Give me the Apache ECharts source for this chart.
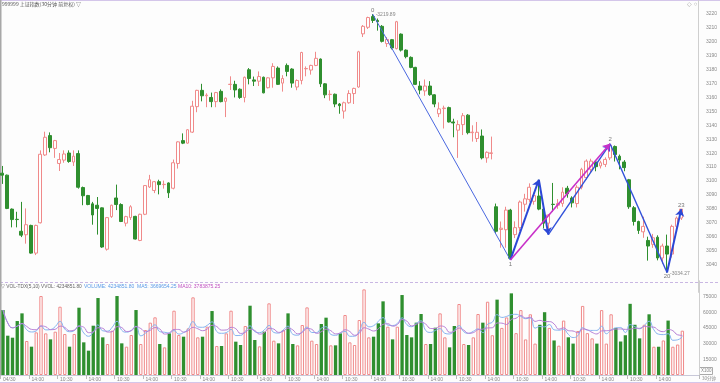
<!DOCTYPE html>
<html><head><meta charset="utf-8">
<script src="https://cdn.jsdelivr.net/npm/echarts@6/dist/echarts.min.js"></script>
<style>html,body{margin:0;padding:0;background:#fdfdfd}#c{width:720px;height:383px}</style>
</head><body><div id="c"></div>
<script>
const openP=[3105.6,3104.2,3079.8,3072.5,3063.9,3061.4,3068.1,3048.2,3070.0,3118.7,
3132.6,3123.4,3112.6,3115.0,3120.1,3113.6,3119.7,3095.3,3089.6,3083.6,
3082.6,3080.7,3051.0,3074.4,3087.8,3083.1,3069.7,3073.7,3074.6,3057.3,
3076.1,3095.7,3093.2,3099.5,3097.4,3098.6,3094.8,3112.6,3129.0,3127.2,
3135.1,3153.4,3165.1,3161.2,3160.0,3157.0,3164.4,3157.2,3169.3,3169.4,
3165.9,3160.0,3179.9,3172.6,3171.7,3174.5,3167.0,3174.1,3181.1,3170.3,
3183.0,3180.4,3167.5,3172.2,3180.6,3179.7,3183.0,3187.6,3169.8,3162.1,
3162.3,3155.3,3150.2,3156.2,3162.8,3167.5,3205.7,3210.4,3218.1,3215.3,
3211.1,3198.7,3201.5,3195.1,3205.5,3194.0,3188.8,3181.6,3168.2,3164.7,
3168.2,3161.9,3148.3,3152.0,3152.7,3142.4,3136.5,3140.5,3147.3,3134.7,
3130.5,3132.3,3116.6,3119.8,3081.5,3065.2,3065.0,3079.1,3061.5,3066.5,
3083.3,3086.8,3085.4,3089.2,3079.8,3069.7,3083.3,3082.6,3083.8,3094.8,
3087.8,3083.8,3095.5,3102.5,3108.4,3113.6,3110.8,3111.9,3116.6,3124.8,
3117.8,3113.6,3100.9,3080.8,3070.9,3063.5,3057.3,3054.5,3059.6,3044.7,
3053.3,3047.5,3067.4,3073.4];
const closeP=[3104.2,3080.3,3072.3,3072.3,3061.1,3068.6,3048.2,3068.1,3119.2,3131.4,
3123.9,3129.0,3115.4,3119.4,3114.0,3117.8,3095.5,3089.4,3083.1,3075.6,
3080.3,3052.6,3073.7,3082.6,3083.1,3070.9,3074.4,3081.5,3058.3,3076.1,
3096.7,3100.9,3099.5,3097.4,3097.6,3091.5,3113.1,3128.1,3127.2,3136.8,
3153.7,3165.1,3161.2,3161.7,3157.0,3163.5,3157.0,3159.5,3169.5,3165.4,
3160.0,3174.5,3173.6,3171.7,3175.0,3163.3,3174.1,3182.3,3169.4,3173.6,
3178.7,3170.3,3172.2,3192.3,3180.8,3183.0,3188.1,3169.8,3161.9,3162.3,
3155.3,3154.1,3156.2,3162.8,3166.5,3192.8,3211.1,3217.4,3215.3,3214.4,
3200.3,3201.7,3195.6,3214.4,3194.0,3189.3,3181.6,3169.4,3165.3,3168.2,
3162.0,3155.3,3151.8,3152.4,3142.4,3141.7,3140.5,3146.9,3134.7,3135.1,
3135.0,3116.6,3120.6,3120.2,3063.9,3066.1,3079.1,3044.5,3066.5,3084.9,
3087.2,3095.5,3089.5,3079.8,3069.7,3075.6,3083.1,3083.8,3092.0,3090.8,
3084.3,3095.5,3108.4,3114.3,3114.3,3110.3,3113.1,3115.5,3125.5,3119.0,
3115.0,3109.6,3081.5,3070.9,3064.5,3067.4,3053.3,3059.2,3044.7,3053.3,
3047.5,3067.4,3073.4,3079.8];
const lowP=[3097.9,3079.8,3066.7,3066.7,3059.7,3055.0,3047.8,3046.8,3069.5,3118.0,
3120.6,3116.6,3107.2,3113.1,3113.1,3110.8,3094.5,3082.6,3082.6,3068.6,
3061.5,3052.0,3050.0,3073.5,3079.1,3070.5,3067.4,3072.0,3058.0,3056.8,
3075.5,3095.0,3091.3,3090.4,3094.5,3087.8,3094.0,3108.9,3126.5,3126.8,
3134.5,3149.4,3157.2,3153.0,3153.0,3153.0,3156.5,3145.9,3165.4,3160.0,
3159.0,3156.5,3169.4,3168.2,3168.2,3163.0,3166.5,3167.0,3169.0,3164.2,
3175.2,3167.0,3165.2,3169.4,3175.2,3176.4,3182.5,3167.5,3159.5,3157.7,
3153.0,3148.3,3144.8,3155.5,3155.3,3167.0,3203.4,3209.2,3213.5,3208.0,
3199.5,3196.3,3194.5,3194.5,3193.0,3188.1,3181.0,3169.0,3162.3,3161.2,
3161.2,3153.0,3145.9,3137.7,3142.0,3131.4,3116.6,3133.0,3133.5,3128.3,
3128.0,3115.5,3113.1,3115.5,3062.7,3052.1,3052.1,3043.3,3059.0,3064.0,
3078.0,3085.0,3083.0,3079.0,3066.0,3061.5,3078.0,3080.0,3081.5,3088.0,
3081.0,3081.0,3094.0,3101.0,3106.0,3107.0,3109.0,3110.0,3115.0,3114.0,
3108.4,3107.0,3080.0,3068.0,3062.0,3059.2,3042.8,3052.0,3043.0,3040.5,
3034.27,3045.0,3066.0,3072.0];
const highP=[3110.8,3104.6,3080.3,3077.9,3085.0,3080.3,3068.6,3068.6,3122.0,3135.4,
3134.9,3129.5,3120.1,3122.0,3122.0,3122.0,3122.0,3096.0,3090.0,3085.0,
3088.5,3081.0,3074.0,3083.0,3097.4,3084.0,3075.0,3082.6,3075.0,3076.5,
3097.0,3104.4,3100.0,3100.9,3100.3,3099.0,3115.4,3128.5,3134.2,3137.2,
3157.6,3165.5,3169.8,3163.0,3163.5,3164.0,3165.8,3160.0,3175.2,3172.0,
3166.5,3175.0,3181.1,3175.0,3178.7,3175.0,3174.5,3184.6,3182.3,3176.0,
3184.4,3181.0,3173.0,3192.8,3182.3,3183.5,3192.8,3188.0,3170.3,3165.2,
3162.8,3156.0,3157.0,3165.2,3167.0,3193.5,3212.0,3218.0,3219.89,3216.7,
3212.0,3203.4,3202.0,3215.0,3206.0,3194.5,3189.5,3182.0,3171.7,3172.9,
3171.7,3162.3,3156.5,3154.1,3153.4,3144.7,3143.6,3148.8,3148.0,3140.0,
3142.4,3137.0,3121.3,3131.9,3083.8,3070.9,3081.5,3080.0,3071.0,3086.0,
3090.8,3098.3,3091.5,3100.9,3080.5,3076.0,3098.6,3087.0,3095.5,3096.5,
3089.0,3097.0,3109.5,3115.5,3116.0,3115.0,3114.5,3117.0,3126.7,3125.5,
3119.0,3115.0,3101.5,3082.0,3071.5,3074.4,3060.0,3062.0,3061.0,3055.0,
3061.5,3068.6,3074.5,3079.8];
const volume=[62070,37560,35640,51560,58890,32470,27060,40740,75450,39790,
34060,41380,65250,39150,27060,39150,64290,31200,23240,47100,
73540,35970,29600,42330,75450,30240,27060,38200,62070,29600,
42970,50000,55090,29600,26420,39790,61430,38200,36600,44560,
74180,35970,36600,46150,61110,27690,27690,39790,61430,31840,
28650,46800,66200,33420,27370,41380,68460,32790,30240,42970,
58890,29600,28330,47750,64600,32790,29600,48700,54770,28330,
28330,39790,57300,31200,28650,52520,81800,35970,36600,49340,
70370,46150,34060,46150,76400,38200,35970,50010,58260,29600,
29600,45200,58890,35970,26420,46790,67810,29600,28650,35970,
58260,50000,70000,38000,72000,45000,55000,78000,40000,62000,
34000,58000,30000,48000,60000,45000,33000,28000,52000,36000,
30000,42000,66000,40000,35000,30000,62000,30000,58000,45000,
32000,38000,68000,48000,35000,48000,58000,27000,27000,33000,
52000,27000,29100,42348.5];
const tickLabels=['04/30','14:00','10:30','14:00','10:30','14:00','10:30','14:00','10:30','14:00','10:30','14:00',
'10:30','14:00','10:30','14:00','10:30','14:00','10:30','14:00','10:30','14:00','10:30','14:00'];
const zzIdx=[78,107,113,115,128,140,143];
const zzType=['H','L','H','L','H','L','H'];
const pivotIdx=[78,107,128,140,143];
const pivotName=['0','1','2','20','23'];
const emptySlots=3;

const N=openP.length, SLOTS=N+emptySlots;
const cats=[];for(let i=0;i<SLOTS;i++)cats.push(String(i));
const labelAt=i=>(i%6===0&&i/6<tickLabels.length)?tickLabels[i/6]:'';
const candle=openP.map((o,i)=>[o,closeP[i],lowP[i],highP[i]]);
const GREEN='#2f8f2f', RED='#f08a8a';
const volData=volume.map((v,i)=>{const up=closeP[i]>=openP[i];return {value:v,itemStyle:up?{color:'#ffffff',borderColor:RED,borderWidth:1}:{color:GREEN,borderColor:GREEN,borderWidth:0}}});
function ma(n){return volume.map((v,i)=>{let s=0,c=0;for(let k=Math.max(0,i-n+1);k<=i;k++){s+=volume[k];c++;}return +(s/c).toFixed(1);});}
const zzPt=k=>[zzIdx[k], zzType[k]==='H'?highP[zzIdx[k]]:lowP[zzIdx[k]]];
const segStyle=[{c:'#4a68e0',w:1,a:false},{c:'#2b47d6',w:2,a:true},{c:'#2b47d6',w:2,a:true},{c:'#3050da',w:1.4,a:true},{c:'#3050da',w:1.4,a:false},{c:'#2b47d6',w:2,a:true}];
const segs=[];
for(let k=0;k<zzIdx.length-1;k++){const s=segStyle[k];segs.push({coords:[zzPt(k),zzPt(k+1)],symbol:['none',s.a?'arrow':'none'],symbolSize:[0,7],lineStyle:{color:s.c,width:s.w,opacity:1}});}
segs.push({coords:[zzPt(1),zzPt(4)],symbol:['none','arrow'],symbolSize:[0,7],lineStyle:{color:'#c830c8',width:1.6,opacity:1}});
const pivotPts=pivotIdx.map((idx,k)=>{const t=zzType[zzIdx.indexOf(idx)];return {value:[idx,t==='H'?highP[idx]:lowP[idx]],name:pivotName[k],label:{position:t==='H'?'top':'bottom'}};});
const extremePts=[zzPt(0),zzPt(5)].map(p=>({value:p}));

const F='"Liberation Sans", Arial, sans-serif';
const chart=echarts.init(document.getElementById('c'),null,{renderer:'canvas'});
chart.setOption({
 animation:false,
 backgroundColor:'#fdfdfd',
 grid:[{left:0,right:21,top:-6.22,height:298.6},{left:0,right:21,top:280.8,height:94.2}],
 xAxis:[
  {type:'category',gridIndex:0,data:cats,boundaryGap:true,axisLine:{show:false},axisTick:{show:false},axisLabel:{show:false},splitLine:{show:false}},
  {type:'category',gridIndex:1,data:cats,boundaryGap:true,
   axisLine:{show:true,lineStyle:{color:'#c8c8d8',width:1}},
   axisTick:{show:true,length:4,interval:(i)=>labelAt(i)!=='',lineStyle:{color:'#bbb'}},
   axisLabel:{show:true,interval:(i)=>labelAt(i)!=='',formatter:(v,i)=>labelAt(i),align:'left',fontSize:5,color:'#888',margin:2,fontFamily:F},
   splitLine:{show:false}}
 ],
 yAxis:[
  {type:'value',gridIndex:0,position:'right',min:3020,max:3230,interval:10,
   axisLine:{show:true,lineStyle:{color:'#cfcfcf'}},axisTick:{show:false},splitLine:{show:false},
   axisLabel:{formatter:v=>(v>=3040&&v<=3220)?String(v):'',fontSize:5,color:'#8a8a8a',margin:8,fontFamily:F}},
  {type:'value',gridIndex:1,position:'right',min:0,max:90000,interval:15000,
   axisLine:{show:true,lineStyle:{color:'#cfcfcf'}},axisTick:{show:false},splitLine:{show:false},
   axisLabel:{formatter:v=>(v>=15000&&v<=75000)?String(v):'',fontSize:5,color:'#8a8a8a',margin:4,fontFamily:F}}
 ],
 series:[
  {type:'candlestick',xAxisIndex:0,yAxisIndex:0,data:candle,barWidth:'70%',
   itemStyle:{color:'#ffffff',color0:GREEN,borderColor:RED,borderColor0:GREEN,borderWidth:1}},
  {type:'lines',coordinateSystem:'cartesian2d',xAxisIndex:0,yAxisIndex:0,data:segs,silent:true,z:5,lineStyle:{opacity:1}},
  {type:'scatter',xAxisIndex:0,yAxisIndex:0,data:pivotPts,symbolSize:0,silent:true,z:6,
   label:{show:true,formatter:p=>p.name,fontSize:6,color:'#555',distance:1,fontFamily:F}},
  {type:'scatter',xAxisIndex:0,yAxisIndex:0,data:extremePts,symbolSize:0,silent:true,z:6,
   label:{show:true,position:'right',distance:3,offset:[0,1],formatter:p=>'-'+p.value[1].toFixed(2),fontSize:5,color:'#666',fontFamily:F}},
  {type:'bar',xAxisIndex:1,yAxisIndex:1,data:volData,barWidth:'70%'},
  {type:'line',xAxisIndex:1,yAxisIndex:1,data:ma(5),showSymbol:false,smooth:true,lineStyle:{color:'#86b4f0',width:1},z:4},
  {type:'line',xAxisIndex:1,yAxisIndex:1,data:ma(10),showSymbol:false,smooth:true,lineStyle:{color:'#b77fd6',width:1},z:4}
 ],
 graphic:[
  {type:'line',shape:{x1:0,y1:0.5,x2:720,y2:0.5},style:{stroke:'#d4c6ea',lineWidth:1}},
  {type:'line',shape:{x1:0,y1:282.5,x2:720,y2:282.5},style:{stroke:'#c9b7e3',lineWidth:1,lineDash:[3,2]}},
  {type:'line',shape:{x1:0,y1:382.5,x2:720,y2:382.5},style:{stroke:'#d4c6ea',lineWidth:1}},
  {type:'line',shape:{x1:0.75,y1:0,x2:0.75,y2:376},style:{stroke:'#a8a8a8',lineWidth:1.5}},
  {type:'text',left:2,top:2,style:{text:'999999 上证指数(30分钟 前复权) ▽',fontSize:5,fill:'#555',fontFamily:'"Noto Sans CJK SC", sans-serif'}},
  {type:'text',left:687,top:1,style:{text:'◇ ○',fontSize:6,fill:'#999',fontFamily:F}},
  {type:'text',left:1,top:284.5,style:{text:'▽ VOL-TDX(5,10) VVOL: 4234851.80',fontSize:4.8,fill:'#666',fontFamily:F}},
  {type:'text',left:84,top:284.5,style:{text:'VOLUME: 4234851.80  MA5: 3669654.25',fontSize:5,fill:'#5a9be8',fontFamily:F}},
  {type:'text',left:178,top:284.5,style:{text:'MA10: 3783875.25',fontSize:5,fill:'#c050c0',fontFamily:F}},
  {type:'rect',shape:{x:699.5,y:367.5,width:13,height:7},style:{fill:'none',stroke:'#aaa',lineWidth:1}},
  {type:'text',left:701,top:368.5,style:{text:'X100',fontSize:4.5,fill:'#888',fontFamily:F}},
  {type:'text',left:702,top:376.5,style:{text:'30分钟',fontSize:4.5,fill:'#888',fontFamily:'"Noto Sans CJK SC", sans-serif'}}
 ]
});
</script></body></html>
